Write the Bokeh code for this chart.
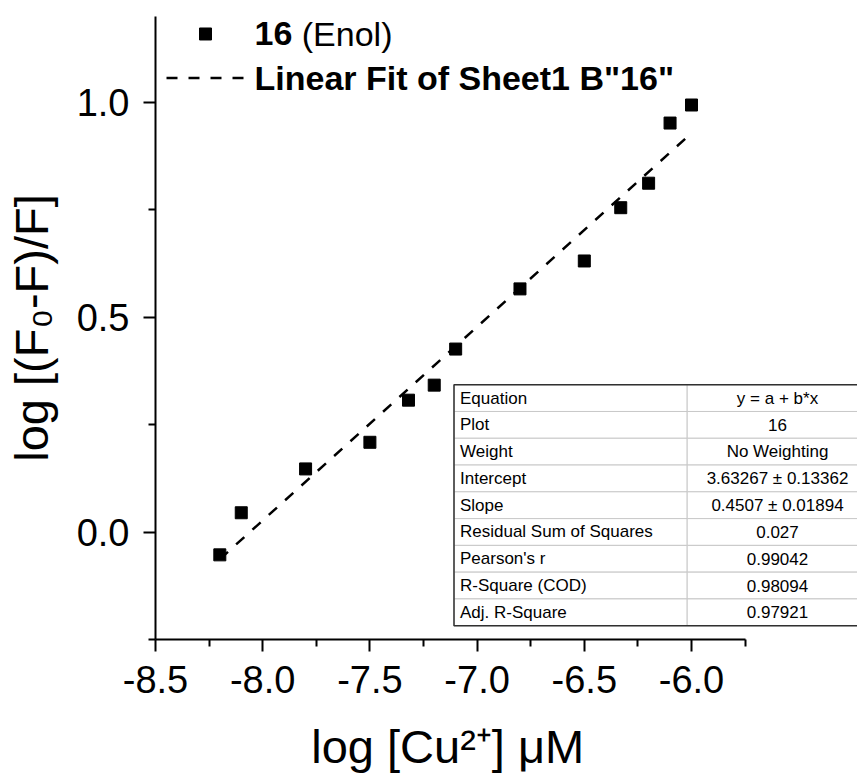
from bokeh.plotting import figure
from bokeh.models import Range1d, FixedTicker, NumeralTickFormatter
from bokeh.core.properties import value
from bokeh.embed import file_html
from bokeh.resources import INLINE

# ---------------- data ----------------
log_cu = [-8.2, -8.1, -7.8, -7.5, -7.32, -7.2, -7.1, -6.8, -6.5, -6.33, -6.2, -6.1, -6.0]
log_quench = [-0.053, 0.045, 0.147, 0.209, 0.307, 0.342, 0.426, 0.566, 0.631, 0.755, 0.812, 0.952, 0.994]
fit_intercept = 3.63267
fit_slope = 0.4507
x_major = [-8.5, -8.0, -7.5, -7.0, -6.5, -6.0]
x_minor = [-8.25, -7.75, -7.25, -6.75, -6.25, -5.75]
y_major = [0.0, 0.5, 1.0]
y_minor = [-0.25, 0.25, 0.75]
x_title = "log [Cu\u00b2\u207a] \u03bcM"
y_title = "log [(F\u2080-F)/F]"
table_labels = ["Equation", "Plot", "Weight", "Intercept", "Slope",
                "Residual Sum of Squares", "Pearson's r", "R-Square (COD)", "Adj. R-Square"]
table_values = ["y = a + b*x", "16", "No Weighting", "3.63267 \u00b1 0.13362", "0.4507 \u00b1 0.01894",
                "0.027", "0.99042", "0.98094", "0.97921"]

# ---------------- layout ----------------
W, H = 857, 778
LEFT, BOTTOM, TOP = 155, 139, 16
XMIN, XAX_END = -8.5, -5.75
YMIN, YMAX = -0.25, 1.2
XPX, YPX = 214.4, 430.0
FONT = "Liberation Sans"
DASH = "11 11"


def sx(px):
    return XMIN + (px - LEFT) / XPX


def sy(py):
    return YMIN + (H - BOTTOM - py) / YPX


x_end = XMIN + (W - LEFT) / XPX

p = figure(width=W, height=H, x_range=Range1d(XMIN, x_end), y_range=Range1d(YMIN, YMAX),
           output_backend="svg", toolbar_location=None,
           min_border_left=LEFT, min_border_bottom=BOTTOM, min_border_right=0, min_border_top=TOP)
p.outline_line_color = None
p.grid.visible = False
p.background_fill_color = "white"

p.xaxis.bounds = (XMIN, XAX_END)
p.xaxis.ticker = FixedTicker(ticks=x_major, minor_ticks=x_minor)
p.yaxis.ticker = FixedTicker(ticks=y_major, minor_ticks=y_minor)
p.xaxis.formatter = NumeralTickFormatter(format="0.0")
p.yaxis.formatter = NumeralTickFormatter(format="0.0")
for ax in (p.xaxis[0], p.yaxis[0]):
    ax.axis_line_width = 2
    ax.axis_line_color = "black"
    ax.major_tick_line_width = 2
    ax.minor_tick_line_width = 2
    ax.major_tick_line_color = "black"
    ax.minor_tick_line_color = "black"
    ax.major_tick_out = 12
    ax.major_tick_in = 0
    ax.minor_tick_out = 7
    ax.minor_tick_in = 0
    ax.major_label_text_font = FONT
    ax.major_label_text_font_size = "38px"
    ax.major_label_text_color = "black"
    ax.axis_label_text_font = FONT
    ax.axis_label_text_font_size = "47px"
    ax.axis_label_text_font_style = "normal"
    ax.axis_label_text_color = "black"
p.xaxis.major_label_standoff = 14
p.yaxis.major_label_standoff = 14
p.yaxis.axis_label = y_title
p.yaxis.axis_label_standoff = 16
# the frame runs to the right edge (for the fit table); trailing no-break spaces
# shift the centred label back under the bounded axis
p.xaxis.axis_label = x_title + "\u00a0" * 9
p.xaxis.axis_label_standoff = 24

# ---------------- fit line & data ----------------
fx = [min(log_cu), max(log_cu)]
fy = [fit_intercept + fit_slope * v for v in fx]
p.line(fx, fy, line_color="black", line_width=2.5, line_dash=DASH)
p.scatter(log_cu, log_quench, marker="square", size=12, color="black")

# ---------------- table ----------------
T_LEFT, T_MID, T_RIGHT, T_TOP, ROW_H = 453.5, 686.7, 870.0, 384.0, 26.8
n = len(table_labels)
tops = [sy(T_TOP + i * ROW_H) for i in range(n)]
bots = [sy(T_TOP + (i + 1) * ROW_H) for i in range(n)]
mids = [sy(T_TOP + (i + 0.5) * ROW_H) for i in range(n)]
p.quad(left=[sx(T_LEFT)] * n, right=[sx(T_MID)] * n, top=tops, bottom=bots,
       fill_color="white", line_color="#c8c8c8", line_width=1)
p.quad(left=[sx(T_MID)] * n, right=[sx(T_RIGHT)] * n, top=tops, bottom=bots,
       fill_color="white", line_color="#c8c8c8", line_width=1)
p.quad(left=[sx(T_LEFT)], right=[sx(T_RIGHT)], top=[sy(T_TOP)], bottom=[sy(T_TOP + n * ROW_H)],
       fill_color=None, line_color="#303030", line_width=1.5)
p.text(x=[sx(T_LEFT + 6)] * n, y=mids, text=table_labels, text_font=value(FONT),
       text_font_size="17px", text_baseline="middle", text_align="left", text_color="black")
p.text(x=[sx(777)] * n, y=mids, text=table_values, text_font=value(FONT),
       text_font_size="17px", text_baseline="middle", text_align="center", text_color="black")

# ---------------- legend ----------------
LEG_FS = 34
p.scatter([sx(205)], [sy(33)], marker="square", size=12, color="black")
p.line([sx(166), sx(245)], [sy(77), sy(77)], line_color="black", line_width=2.5, line_dash=DASH)
p.text(x=[sx(254)], y=[sy(33)], text=["16"], text_font=value(FONT), text_font_style="bold",
       text_font_size=f"{LEG_FS}px", text_baseline="middle", text_align="left", text_color="black")
p.text(x=[sx(254 + (0.556 * 2 + 0.278) * LEG_FS)], y=[sy(33)], text=["(Enol)"], text_font=value(FONT),
       text_font_size=f"{LEG_FS}px", text_baseline="middle", text_align="left", text_color="black")
p.text(x=[sx(254)], y=[sy(77)], text=['Linear Fit of Sheet1 B"16"'], text_font=value(FONT),
       text_font_style="bold", text_font_size=f"{LEG_FS}px", text_baseline="middle",
       text_align="left", text_color="black")

open("out.html", "w").write(file_html(p, INLINE))
